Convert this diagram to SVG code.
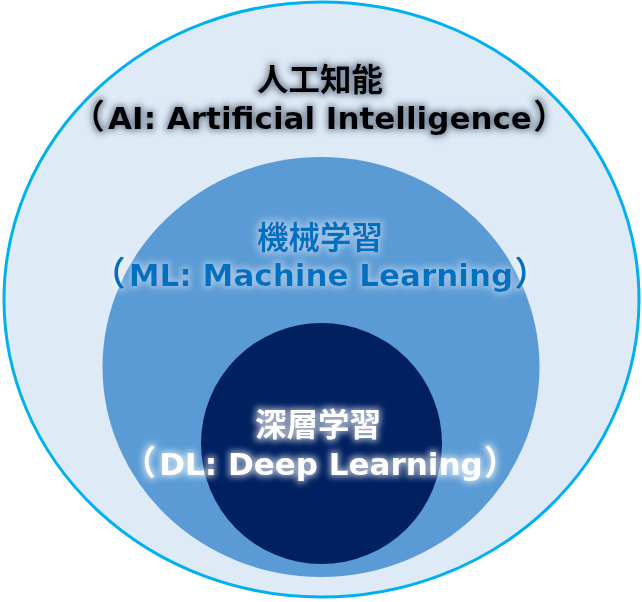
<svg xmlns="http://www.w3.org/2000/svg" width="642" height="602" viewBox="0 0 642 602">
<defs>
<style>
.t{font-family:"DejaVu Sans","Noto Sans CJK JP",sans-serif;font-weight:bold;font-size:31px;text-anchor:middle}
.p{font-family:"Noto Sans CJK JP",sans-serif;font-size:34px;font-weight:bold}
.j{font-family:"Noto Sans CJK JP",sans-serif;font-weight:bold;font-size:31.5px;text-anchor:middle}
</style>
<filter id="gAI" x="-10%" y="-40%" width="120%" height="180%">
<feMorphology in="SourceAlpha" operator="dilate" radius="2" result="d"/>
<feGaussianBlur in="d" stdDeviation="3" result="b"/>
<feFlood flood-color="#44546A" flood-opacity="0.6"/>
<feComposite in2="b" operator="in" result="g"/>
<feMerge><feMergeNode in="g"/><feMergeNode in="SourceGraphic"/></feMerge>
</filter>
<filter id="gML" x="-10%" y="-40%" width="120%" height="180%">
<feMorphology in="SourceAlpha" operator="dilate" radius="2" result="d"/>
<feGaussianBlur in="d" stdDeviation="3" result="b"/>
<feFlood flood-color="#FFFFFF" flood-opacity="0.4"/>
<feComposite in2="b" operator="in" result="g"/>
<feMerge><feMergeNode in="g"/><feMergeNode in="SourceGraphic"/></feMerge>
</filter>
<filter id="gDL" x="-10%" y="-40%" width="120%" height="180%">
<feMorphology in="SourceAlpha" operator="dilate" radius="2" result="d"/>
<feGaussianBlur in="d" stdDeviation="3" result="b"/>
<feFlood flood-color="#FFFFFF" flood-opacity="0.6"/>
<feComposite in2="b" operator="in" result="g"/>
<feMerge><feMergeNode in="g"/><feMergeNode in="SourceGraphic"/></feMerge>
</filter>
</defs>
<g id="connectors"/>
<g id="ai">
<ellipse cx="321.5" cy="299.5" rx="317.5" ry="297.5" fill="#DEEAF6" stroke="#00B0F0" stroke-width="3"/>
<g filter="url(#gAI)" fill="#000000">
<text class="j" x="320" y="91">人工知能</text>
<text class="t" x="319" y="129"><tspan class="p">（</tspan><tspan dx="3">AI: Artificial Intelligence</tspan><tspan class="p" dx="1">）</tspan></text>
</g>
</g>
<g id="ml">
<ellipse cx="321" cy="367" rx="218.5" ry="210" fill="#5B9BD5"/>
<g filter="url(#gML)" fill="#0070C0">
<text class="j" x="320" y="249">機械学習</text>
<text class="t" x="320" y="286"><tspan class="p">（</tspan><tspan dx="3">ML: Machine Learning</tspan><tspan class="p" dx="1">）</tspan></text>
</g>
</g>
<g id="dl">
<circle cx="321.5" cy="443.5" r="120.5" fill="#002060"/>
<g filter="url(#gDL)" fill="#FFFFFF">
<text class="j" x="318" y="436">深層学習</text>
<text class="t" x="320" y="475"><tspan class="p">（</tspan><tspan dx="3">DL: Deep Learning</tspan><tspan class="p" dx="1">）</tspan></text>
</g>
</g>
</svg>
